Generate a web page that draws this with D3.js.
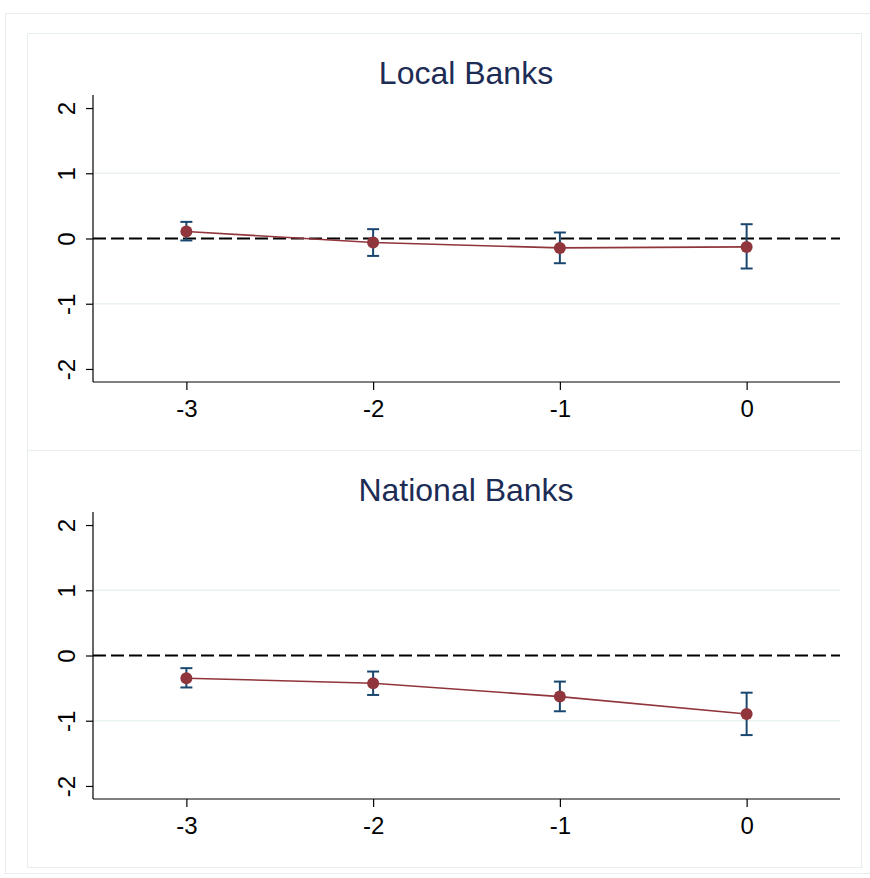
<!DOCTYPE html>
<html><head><meta charset="utf-8">
<script src="https://cdn.jsdelivr.net/npm/d3@7"></script>
<style>body{margin:0;background:#fff}svg{display:block}</style>
</head><body>
<svg id="c" width="870" height="878"></svg>
<script>
const periods = [-3, -2, -1, 0];
const xTicks = [-3, -2, -1, 0];
const yTicks = [-2, -1, 0, 1, 2];
const panelTitles = ["Local Banks", "National Banks"];
const localEst = [0.107, -0.061, -0.144, -0.129];
const localLo  = [-0.03, -0.267, -0.379, -0.46];
const localHi  = [0.255, 0.143, 0.092, 0.219];
const natEst = [-0.348, -0.425, -0.63, -0.897];
const natLo  = [-0.49, -0.605, -0.855, -1.22];
const natHi  = [-0.194, -0.246, -0.40, -0.57];

const panels = [
  {title: panelTitles[0], est: localEst, lo: localLo, hi: localHi, top: 33},
  {title: panelTitles[1], est: natEst, lo: natLo, hi: natHi, top: 450}
];

const svg = d3.select("#c");
const font = "'Liberation Sans', Arial, Helvetica, sans-serif";
const fmt = d => String(d);
// outer frame
svg.append("rect").attr("x",5.5).attr("y",13.5).attr("width",880).attr("height",860)
  .attr("fill","#fff").attr("stroke","#e6eef0").attr("stroke-width",1);

const x = d3.scaleLinear().domain([-3.5, 0.5]).range([93, 840]);

panels.forEach(p => {
  const g = svg.append("g").attr("transform", `translate(0,${p.top})`);
  g.append("rect").attr("x",27.5).attr("y",0.5).attr("width",834).attr("height",417)
    .attr("fill","#fff").attr("stroke","#e6eef0").attr("stroke-width",1);
  const y = d3.scaleLinear().domain([-2.2, 2.2]).range([349, 62]);
  // title
  g.append("text").attr("x", 466).attr("y", 51).attr("text-anchor","middle")
    .attr("font-family", font).attr("font-size", 32).attr("fill","#1d2c55").text(p.title);
  // grid
  g.selectAll(".grid").data([-1, 1]).enter().append("line")
    .attr("x1", 93).attr("x2", 840).attr("y1", d=>y(d)).attr("y2", d=>y(d))
    .attr("stroke","#eaf2f3").attr("stroke-width",1.5);
  // y axis
  const ya = g.append("g").attr("transform","translate(93,0)")
    .call(d3.axisLeft(y).tickValues(yTicks).tickSize(7).tickPadding(0).tickFormat(fmt));
  ya.select(".domain").attr("stroke","#000").attr("stroke-width",1.2).attr("d", `M0,${y(2.2)}V${y(-2.2)}`);
  ya.selectAll(".tick line").attr("stroke","#000").attr("stroke-width",1.2);
  ya.selectAll(".tick text").attr("font-family",font).attr("font-size",24).attr("fill","#000")
    .attr("transform","translate(-26,0) rotate(-90)").attr("text-anchor","middle").attr("dy","0.35em").attr("x",0);
  // x axis
  const xa = g.append("g").attr("transform",`translate(0,${y(-2.2)})`)
    .call(d3.axisBottom(x).tickValues(xTicks).tickSize(8).tickPadding(10).tickFormat(fmt));
  xa.select(".domain").attr("stroke","#000").attr("stroke-width",1.2).attr("d", `M93,0H840`);
  xa.selectAll(".tick line").attr("stroke","#000").attr("stroke-width",1.2);
  xa.selectAll(".tick text").attr("font-family",font).attr("font-size",24).attr("fill","#000");
  // zero dashed line
  g.append("line").attr("x1",93).attr("x2",840).attr("y1",y(0)).attr("y2",y(0))
    .attr("stroke","#000").attr("stroke-width",2).attr("stroke-dasharray","13,5");
  // error bars
  const eb = g.selectAll(".eb").data(periods.map((t,i)=>({t, lo:p.lo[i], hi:p.hi[i]}))).enter().append("g");
  eb.append("line").attr("x1",d=>x(d.t)).attr("x2",d=>x(d.t)).attr("y1",d=>y(d.lo)).attr("y2",d=>y(d.hi))
    .attr("stroke","#1a476f").attr("stroke-width",2);
  eb.append("line").attr("x1",d=>x(d.t)-6).attr("x2",d=>x(d.t)+6).attr("y1",d=>y(d.lo)).attr("y2",d=>y(d.lo))
    .attr("stroke","#1a476f").attr("stroke-width",2);
  eb.append("line").attr("x1",d=>x(d.t)-6).attr("x2",d=>x(d.t)+6).attr("y1",d=>y(d.hi)).attr("y2",d=>y(d.hi))
    .attr("stroke","#1a476f").attr("stroke-width",2);
  // line
  const pts = periods.map((t,i)=>[t, p.est[i]]);
  g.append("path").datum(pts).attr("fill","none").attr("stroke","#90353b").attr("stroke-width",1.6)
    .attr("d", d3.line().x(d=>x(d[0])).y(d=>y(d[1])));
  g.selectAll(".pt").data(pts).enter().append("circle")
    .attr("cx",d=>x(d[0])).attr("cy",d=>y(d[1])).attr("r",6).attr("fill","#90353b");
});
</script>
</body></html>
